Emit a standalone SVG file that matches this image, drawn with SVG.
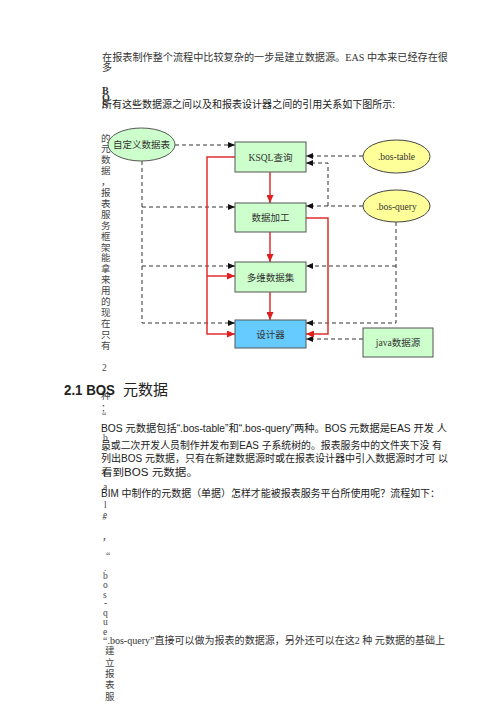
<svg xmlns="http://www.w3.org/2000/svg" width="499" height="706" viewBox="0 0 499 706">
<style>
.serif{font-family:"Liberation Serif","Noto Sans CJK SC",serif;fill:#333}
.sans{font-family:"Liberation Sans","Noto Sans CJK SC",sans-serif;fill:#222}
.t10{font-size:10px}
.v{font-family:"Liberation Serif","Noto Sans CJK SC",serif;font-size:9.5px;fill:#444}
.box{fill:#CCFFCC;stroke:#555;stroke-width:1}
.blue{fill:#66CCFF;stroke:#555;stroke-width:1}
.yel{fill:#FFFF99;stroke:#444;stroke-width:1}
.lbl{font-family:"Liberation Serif","Noto Sans CJK SC",serif;font-size:9.5px;fill:#333;text-anchor:middle}
.dash{fill:none;stroke:#333;stroke-width:1;stroke-dasharray:4,3;marker-end:url(#ab)}
.red{fill:none;stroke:#E03030;stroke-width:1.5;marker-end:url(#ar)}
</style>
<defs>
<marker id="ab" markerUnits="userSpaceOnUse" markerWidth="7" markerHeight="6" refX="7" refY="3" orient="auto"><path d="M0,0 L7,3 L0,6 z" fill="#111"/></marker>
<marker id="ar" markerUnits="userSpaceOnUse" markerWidth="8" markerHeight="7" refX="8" refY="3.5" orient="auto"><path d="M0,0 L8,3.5 L0,7 z" fill="#E02020"/></marker>
</defs>
<rect width="499" height="706" fill="#fff"/>

<!-- body text -->
<text class="serif t10" x="102" y="61" textLength="346" lengthAdjust="spacingAndGlyphs">在报表制作整个流程中比较复杂的一步是建立数据源。EAS  中本来已经存在很</text>
<text class="serif t10" x="102" y="71">多</text>
<text class="serif" x="102" y="94" font-size="10" font-weight="bold">B</text>
<text class="serif" x="102" y="101" font-size="10" font-weight="bold">O</text>
<text class="serif" x="102" y="108" font-size="10" font-weight="bold">S</text>
<text class="sans t10" x="102" y="108" textLength="293" lengthAdjust="spacingAndGlyphs">所有这些数据源之间以及和报表设计器之间的引用关系如下图所示:</text>

<g class="v">
<text x="101" y="141.5">的</text><text x="101" y="152.4">元</text><text x="101" y="163.3">数</text><text x="101" y="174.2">据</text><text x="101" y="185.1">，</text><text x="101" y="196">报</text><text x="101" y="206.9">表</text><text x="101" y="217.8">服</text><text x="101" y="228.7">务</text><text x="101" y="239.6">框</text><text x="101" y="250.5">架</text><text x="101" y="261.4">能</text><text x="101" y="272.3">拿</text><text x="101" y="283.2">来</text><text x="101" y="294.1">用</text><text x="101" y="305">的</text><text x="101" y="315.9">现</text><text x="101" y="326.8">在</text><text x="101" y="337.7">只</text><text x="101" y="348.6">有</text>
<text x="102" y="371">2</text><text x="101" y="399">种</text><text x="101" y="411">：</text><text x="102" y="419">“</text>
<text x="103" y="441">b</text><text x="103" y="451">o</text><text x="103" y="476">t</text><text x="103" y="490">a</text><text x="104" y="508">l</text><text x="103" y="518">e</text><text x="102" y="524">”</text><text x="102" y="540">，</text><text x="106" y="559">“</text><text x="104" y="571">.</text><text x="103" y="579">b</text><text x="103" y="588">o</text><text x="103" y="598">s</text><text x="104" y="606">-</text><text x="103" y="616">q</text><text x="103" y="625">u</text><text x="103" y="635">e</text>
<text x="105" y="654">建</text><text x="105" y="666">立</text><text x="105" y="677">报</text><text x="105" y="688">表</text><text x="105" y="700">服</text>
</g>

<text class="sans" x="64" y="395" font-size="15" font-weight="bold" textLength="51" lengthAdjust="spacingAndGlyphs">2.1 BOS</text>
<text class="sans" x="123" y="395" font-size="15" textLength="45" lengthAdjust="spacingAndGlyphs" fill="#333">元数据</text>

<text class="sans t10" x="101" y="432" textLength="346" lengthAdjust="spacingAndGlyphs">BOS  元数据包括“.bos-table”和“.bos-query”两种。BOS  元数据是EAS  开发  人</text>
<text class="sans t10" x="101" y="449" textLength="341" lengthAdjust="spacingAndGlyphs">员或二次开发人员制作并发布到EAS  子系统树的。报表服务中的文件夹下没  有</text>
<text class="sans t10" x="101" y="462" textLength="347" lengthAdjust="spacingAndGlyphs">列出BOS  元数据，只有在新建数据源时或在报表设计器中引入数据源时才可  以</text>
<text class="sans t10" x="101" y="476" textLength="97" lengthAdjust="spacingAndGlyphs">看到BOS  元数据。</text>
<text class="sans t10" x="101" y="497" textLength="339" lengthAdjust="spacingAndGlyphs">BIM  中制作的元数据（单据）怎样才能被报表服务平台所使用呢？流程如下：</text>
<text class="serif t10" x="103" y="644" textLength="342" lengthAdjust="spacingAndGlyphs">“.bos-query”直接可以做为报表的数据源，另外还可以在这2  种  元数据的基础上</text>

<!-- connectors -->
<g id="connectors">
<path class="dash" d="M175,145 H235"/>
<path class="dash" d="M142,161 V323 H235"/>
<path class="dash" d="M142,207 H235"/>
<path class="dash" d="M142,266 H235"/>
<path class="dash" d="M363,156 H306"/>
<path class="dash" d="M363,206 H306"/>
<path class="dash" d="M328,206 V163 H306"/>
<path class="dash" d="M396,222 V323 H306"/>
<path class="dash" d="M396,266 H306"/>
<path class="dash" d="M363,339 H306"/>
<path class="red" d="M235,157 H207 V334 H235"/>
<path class="red" d="M207,276 H235"/>
<path class="red" d="M270,172 V203"/>
<path class="red" d="M270,232 V262"/>
<path class="red" d="M270,292 V320"/>
<path class="red" d="M306,218 H328 V334 H306"/>
</g>

<!-- nodes -->
<g id="custom-table"><ellipse class="box" cx="141.5" cy="144.5" rx="33.5" ry="16.5"/><text class="lbl" x="141.5" y="148" font-size="8.5">自定义数据表</text></g>
<g id="ksql"><rect class="box" x="235" y="142" width="71" height="30"/><text class="lbl" x="270.5" y="160.5">KSQL查询</text></g>
<g id="process"><rect class="box" x="235" y="203" width="71" height="29"/><text class="lbl" x="270.5" y="221">数据加工</text></g>
<g id="cube"><rect class="box" x="235" y="262" width="71" height="30"/><text class="lbl" x="270.5" y="280.5">多维数据集</text></g>
<g id="designer"><rect class="blue" x="235" y="320" width="71" height="28"/><text class="lbl" x="270.5" y="337.5">设计器</text></g>
<g id="bos-table"><ellipse class="yel" cx="396.5" cy="156.5" rx="33.5" ry="16.5"/><text class="lbl" x="396.5" y="160">.bos-table</text></g>
<g id="bos-query"><ellipse class="yel" cx="396.5" cy="206" rx="33.5" ry="16"/><text class="lbl" x="396.5" y="209.5">.bos-query</text></g>
<g id="java"><rect class="box" x="363" y="328" width="70" height="29"/><text class="lbl" x="398" y="346">java数据源</text></g>
</svg>
